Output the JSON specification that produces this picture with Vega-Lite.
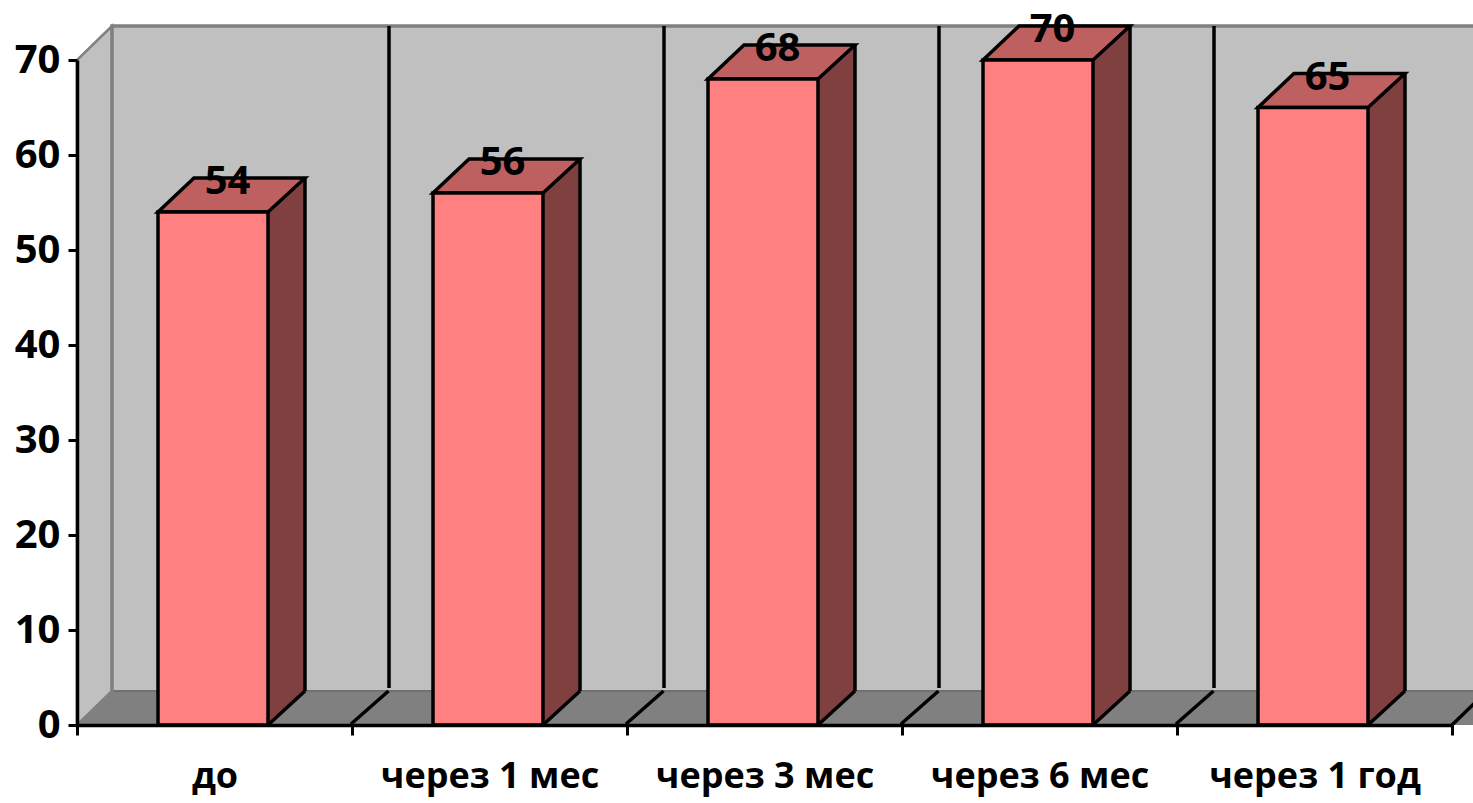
{
"$schema":"https://vega.github.io/schema/vega-lite/v6.json",
"width":1375,"height":665,
"autosize":{"type":"none"},
"padding":{"left":77,"top":60,"right":21,"bottom":78},
"background":"#ffffff",
"config":{"view":{"stroke":null},"font":"Open Sans"},
"data":{"values":[
{"period":"до","value":54},
{"period":"через 1 мес","value":56},
{"period":"через 3 мес","value":68},
{"period":"через 6 мес","value":70},
{"period":"через 1 год","value":65}
]},
"encoding":{
"x":{"field":"period","type":"nominal","sort":null,"scale":{"paddingInner":0,"paddingOuter":0},
"axis":{"title":null,"labelAngle":0,"tickBand":"extent","domainColor":"#000000","domainWidth":3.5,"tickColor":"#000000","tickWidth":3,"tickSize":10,"labelFont":"Open Sans","labelFontWeight":"bold","labelFontSize":36,"labelColor":"#000000","labelPadding":24,"labelLimit":400,"zindex":1}},
"y":{"field":"value","type":"quantitative","scale":{"domain":[0,70],"nice":false},
"axis":{"title":null,"values":[0,10,20,30,40,50,60,70],"grid":false,"domainColor":"#000000","domainWidth":3.5,"tickColor":"#000000","tickWidth":3,"tickSize":9,"labelFont":"Open Sans","labelFontWeight":"bold","labelFontSize":40,"labelColor":"#000000","labelPadding":8,"zindex":1}}
},
"layer":[
{"transform":[{"filter":"datum.period==='до'"}],"mark":{"type":"point","filled":true,"opacity":1,"fill":"#c0c0c0","stroke":null,"shape":"M -102.5,-34 L 1300,-34 L 1300,-699 L -102.5,-699 Z"},"encoding":{"y":{"datum":0},"size":{"value":4}}},
{"transform":[{"filter":"datum.period==='до'"}],"mark":{"type":"point","filled":true,"opacity":1,"fill":"#808080","stroke":null,"shape":"M -137.5,0 L -102.5,-34 L 1300,-34 L 1300,0 Z"},"encoding":{"y":{"datum":0},"size":{"value":4}}},
{"transform":[{"filter":"datum.period==='до'"}],"mark":{"type":"point","filled":false,"opacity":1,"stroke":"#707070","strokeWidth":2,"shape":"M -102.5,-34 L 1300,-34"},"encoding":{"y":{"datum":0},"size":{"value":4}}},
{"transform":[{"filter":"datum.period==='до'"}],"mark":{"type":"point","filled":true,"opacity":1,"fill":"#c0c0c0","stroke":"#808080","strokeWidth":2.5,"shape":"M -137.5,0 L -102.5,-34 L -102.5,-699 L -137.5,-665 Z"},"encoding":{"y":{"datum":0},"size":{"value":4}}},
{"transform":[{"filter":"datum.period==='до'"}],"mark":{"type":"point","filled":false,"opacity":1,"stroke":"#808080","strokeWidth":3.5,"shape":"M -102.5,-34 L -102.5,-699 L 1300,-699"},"encoding":{"y":{"datum":0},"size":{"value":4}}},
{"transform":[{"filter":"datum.period!=='до'"}],"mark":{"type":"point","filled":false,"opacity":1,"stroke":"#000000","strokeWidth":3.5,"shape":"M -138.5,-1 L -101,-34 M -100.5,-37 L -100.5,-699"},"encoding":{"y":{"datum":0},"size":{"value":4}}},
{"transform":[{"filter":"datum.period==='через 1 год'"}],"mark":{"type":"point","filled":false,"opacity":1,"stroke":"#000000","strokeWidth":3.5,"shape":"M 137.5,0 L 172.5,-34"},"encoding":{"y":{"datum":0},"size":{"value":4}}},
{"mark":{"type":"bar","width":37,"xOffset":72,"yOffset":-34,"y2Offset":-34,"fill":"#804040","stroke":null},"encoding":{"y":{"field":"value","type":"quantitative"},"y2":{"datum":0}}},
{"mark":{"type":"point","filled":true,"opacity":1,"fill":"#804040","stroke":null,"shape":"M 53.5,0 L 90.5,-34 L 90.5,-36 L 53.5,-36 Z"},"encoding":{"y":{"datum":0},"size":{"value":4}}},
{"mark":{"type":"point","filled":false,"opacity":1,"stroke":"#000000","strokeWidth":3.5,"shape":"M 53.5,0 L 90.5,-34"},"encoding":{"y":{"datum":0},"size":{"value":4}}},
{"mark":{"type":"rule","xOffset":90.5,"yOffset":-34,"y2Offset":-34,"stroke":"#000000","strokeWidth":3.5},"encoding":{"y":{"field":"value","type":"quantitative"},"y2":{"datum":0}}},
{"mark":{"type":"point","filled":true,"opacity":1,"fill":"#bf6060","stroke":"#000000","strokeWidth":3.5,"shape":"M -56.5,0 L 53.5,0 L 90.5,-34 L -20.5,-34 Z"},"encoding":{"size":{"value":4}}},
{"mark":{"type":"bar","width":110,"xOffset":-1.5,"fill":"#ff8080","stroke":"#000000","strokeWidth":3.5},"encoding":{"y":{"field":"value","type":"quantitative"},"y2":{"datum":0}}},
{"mark":{"type":"text","dx":13,"dy":-30,"baseline":"middle","align":"center","font":"Open Sans","fontWeight":"bold","fontSize":40,"fill":"#000000"},"encoding":{"text":{"field":"value","type":"quantitative"}}}
]
}
